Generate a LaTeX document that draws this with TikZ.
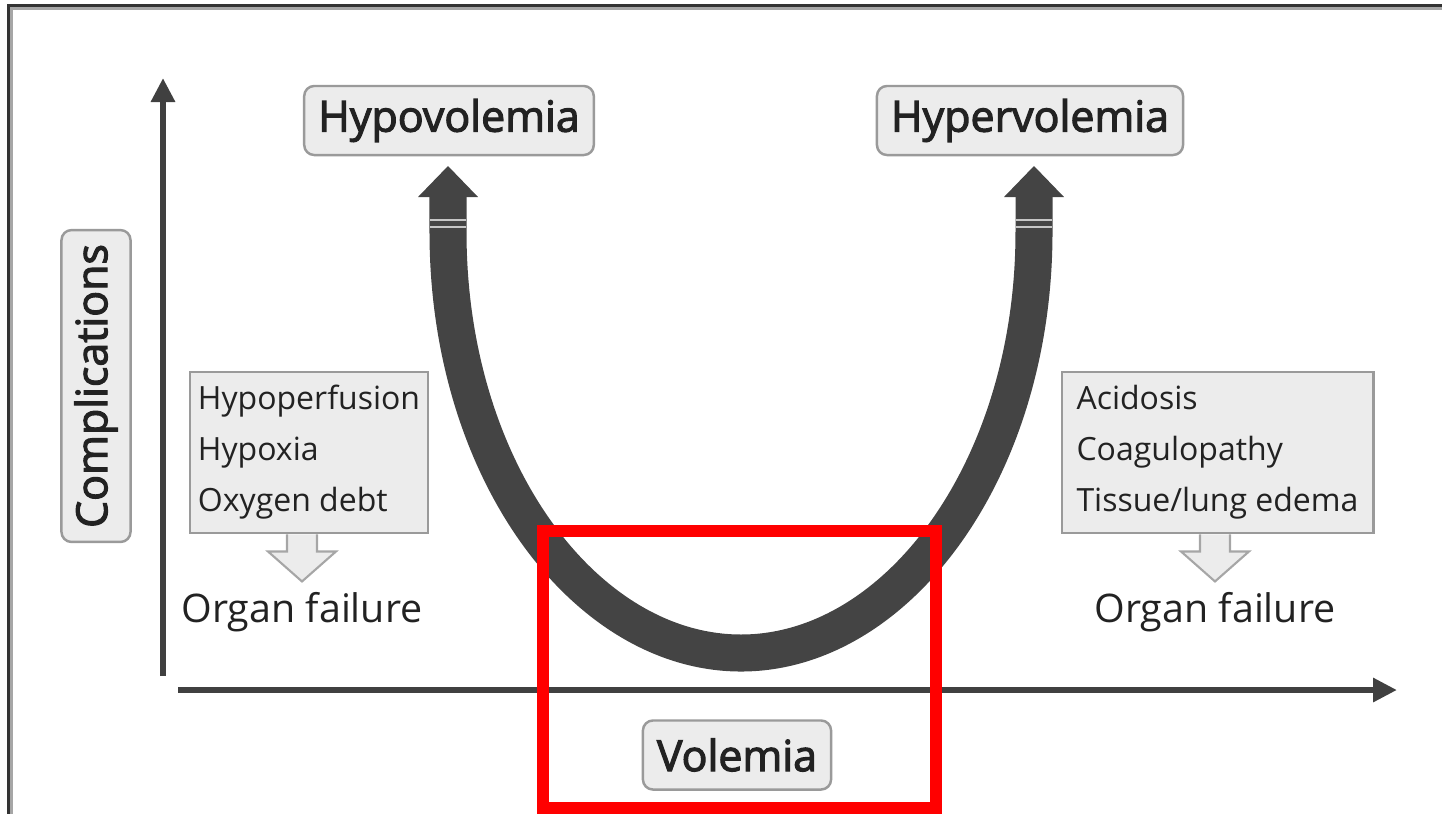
\documentclass[tikz,border=0pt]{standalone}
\usepackage{fontspec}
\setmainfont{Open Sans}
\newfontfamily\semibold{Open Sans}[FakeBold=2.6]
\usetikzlibrary{arrows.meta,positioning,calc}
\definecolor{bandgray}{HTML}{444444}
\definecolor{axisgray}{HTML}{404040}
\definecolor{boxfill}{HTML}{ECECEC}
\definecolor{boxline}{HTML}{9A9A9A}
\definecolor{txt}{HTML}{222222}
\definecolor{markred}{HTML}{FF0000}
\tikzset{
  lbl/.style={draw=boxline, fill=boxfill, rounded corners=0.1cm, line width=0.7pt,
    inner xsep=0.14cm, minimum height=0.69cm, text=txt,
    font=\semibold\fontsize{12.2}{14}\selectfont},
  listbox/.style={draw=boxline, fill=boxfill, line width=0.8pt, align=left,
    inner xsep=0.08cm, minimum height=1.61cm, text=txt,
    font=\fontsize{9.1}{14.5}\selectfont},
  outcome/.style={text=txt, font=\fontsize{11.2}{14}\selectfont},
  hollow/.style={draw=black!35, fill=boxfill, line width=0.6pt},
  axis/.style={axisgray, line width=0.065cm, -{Triangle[length=0.24cm,width=0.23cm]}},
  band/.style={bandgray, line width=0.37cm},
  stripe/.style={gray!45, line width=0.02cm}
}

\begin{document}
\begin{tikzpicture}[x=0.01cm, y=-0.01cm]
  \useasboundingbox (0,0) rectangle (1442,814);
  % frame (top and left only)
  \draw[black!80, line width=0.033cm] (7,5.7) -- (1442,5.7);
  \draw[black!80, line width=0.027cm] (8.7,4) -- (8.7,814);
  \draw[black!35, line width=0.027cm] (10,8.7) -- (1442,8.7);
  \draw[black!35, line width=0.027cm] (11.4,7) -- (11.4,814);

  % axes
  \draw[axis] (163,676) -- (163,78);
  \draw[axis] (178,690) -- (1397,690);

  % the U band
  \draw[band] (448,196) -- (448,232)
    .. controls (448,470) and (585,653) .. (741,653)
    .. controls (897,653) and (1034,470) .. (1034,232) -- (1034,196);
  \fill[bandgray] (418,197) -- (448,166) -- (478,197) -- cycle;
  \fill[bandgray] (1004,197) -- (1034,166) -- (1064,197) -- cycle;
  \draw[stripe] (430,220) -- (466,220) (430,227) -- (466,227);
  \draw[stripe] (1016,220) -- (1052,220) (1016,227) -- (1052,227);

  % labels
  \node[lbl] (hypo) at (449,120.5) {Hypovolemia};
  \node[lbl] (hyper) at (1030,120.5) {Hypervolemia};
  \node[lbl] (vol) at (737,755) {Volemia};
  \node[lbl, rotate=90, minimum width=3.02cm] (compl) at (96,386) {Complications};

  % complication lists
  \node[listbox, minimum width=2.38cm] (hypolist) at (309,452.5)
    {Hypoperfusion\\Hypoxia\\Oxygen debt};
  \node[listbox, minimum width=3.11cm] (hyperlist) at (1217.5,452.5)
    {Acidosis\\Coagulopathy\\Tissue/lung edema};
  \node[outcome] (organL) at (302,612) {Organ failure};
  \node[outcome] (organR) at (1215,612) {Organ failure};

  \begin{scope}[shift={(hypolist.south -| organL)}]
    \draw[hollow] (-15,0) -- (-15,17) -- (-34,17) -- (0,47) -- (34,17) -- (15,17) -- (15,0);
  \end{scope}
  \begin{scope}[shift={(hyperlist.south -| organR)}]
    \draw[hollow] (-15,0) -- (-15,17) -- (-34,17) -- (0,47) -- (34,17) -- (15,17) -- (15,0);
  \end{scope}

  % highlight
  \draw[markred, line width=0.12cm] (543,531) rectangle (936,808);
\end{tikzpicture}
\end{document}
